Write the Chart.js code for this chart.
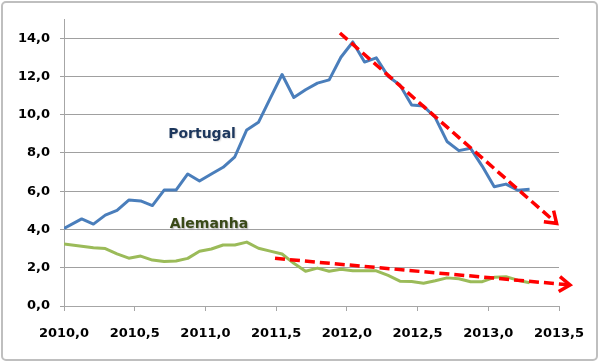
<!DOCTYPE html>
<html>
<head>
<meta charset="utf-8">
<script src="https://cdn.jsdelivr.net/npm/chart.js@4/dist/chart.umd.min.js"></script>
<style>
  body { margin: 0; background: #fff; }
  #wrap { width: 604px; height: 364px; }
</style>
</head>
<body>
<div id="wrap"><canvas id="chart" width="604" height="364"></canvas></div>
<script>
// decimal years, first point at 2010.0 then mid-month
var years = [2010.000, 2010.125, 2010.208, 2010.292, 2010.375, 2010.458, 2010.542, 2010.625, 2010.708, 2010.792,
             2010.875, 2010.958, 2011.042, 2011.125, 2011.208, 2011.292, 2011.375, 2011.458, 2011.542, 2011.625,
             2011.708, 2011.792, 2011.875, 2011.958, 2012.042, 2012.125, 2012.208, 2012.292, 2012.375, 2012.458,
             2012.542, 2012.625, 2012.708, 2012.792, 2012.875, 2012.958, 2013.042, 2013.125, 2013.208, 2013.292];

var portugal = [4.05, 4.55, 4.28, 4.75, 5.00, 5.54, 5.49, 5.25, 6.06, 6.06,
                6.90, 6.53, 6.90, 7.25, 7.80, 9.20, 9.60, 10.85, 12.10, 10.90,
                11.30, 11.65, 11.82, 13.00, 13.80, 12.75, 12.97, 12.00, 11.55, 10.50,
                10.45, 9.85, 8.60, 8.12, 8.24, 7.30, 6.23, 6.37, 6.05, 6.10];

var alemanha = [3.24, 3.12, 3.05, 3.00, 2.72, 2.50, 2.61, 2.40, 2.32, 2.35,
                2.49, 2.86, 2.98, 3.19, 3.19, 3.34, 3.02, 2.87, 2.72, 2.23,
                1.82, 1.98, 1.82, 1.92, 1.84, 1.84, 1.84, 1.60, 1.30, 1.28,
                1.19, 1.32, 1.47, 1.42, 1.27, 1.27, 1.50, 1.53, 1.35, 1.22];

// trend arrows (data units): tail -> tip, head = wing, tip, wing
var trendPt = [{x: 2011.951, y: 14.27}, {x: 2013.483, y: 4.32}];
var headPt = [{x: 2013.393, y: 4.40}, {x: 2013.483, y: 4.32}, {x: 2013.462, y: 4.98}];
var trendDe = [{x: 2011.492, y: 2.49}, {x: 2013.578, y: 1.10}];
var headDe = [{x: 2013.507, y: 1.54}, {x: 2013.578, y: 1.10}, {x: 2013.498, y: 0.76}];

var xTickStep = 0.5;
var yTickStep = 2;

var seriesLabels = [
  {text: 'Portugal', x: 2010.976, y: 8.76, color: '#1c365c', shadow: 'rgba(0,0,0,0.15)'},
  {text: 'Alemanha', x: 2011.025, y: 4.08, color: '#3a4a18', shadow: 'rgba(0,0,0,0.3)'}
];

function pts(xs, ys) {
  var out = [];
  for (var i = 0; i < ys.length; i++) out.push({x: xs[i], y: ys[i]});
  return out;
}

function fmt(v) { return v.toFixed(1).replace('.', ','); }

var frame = {
  id: 'frame',
  beforeDraw: function(chart) {
    var c = chart.ctx;
    c.save();
    c.fillStyle = '#fff';
    c.fillRect(0, 0, chart.width, chart.height);
    c.strokeStyle = '#bfbfbf';
    c.lineWidth = 2;
    c.beginPath();
    c.roundRect(2, 2, 595, 358, 4);
    c.stroke();
    c.restore();
  }
};

var labelsPlugin = {
  id: 'seriesText',
  afterDatasetsDraw: function(chart) {
    var c = chart.ctx, xs = chart.scales.x, ys = chart.scales.y;
    c.save();
    c.font = 'bold 14px "DejaVu Sans"';
    c.textAlign = 'center';
    c.textBaseline = 'alphabetic';
    seriesLabels.forEach(function(l) {
      c.shadowColor = l.shadow;
      c.shadowBlur = 1.5;
      c.shadowOffsetX = 1;
      c.shadowOffsetY = 1;
      c.fillStyle = l.color;
      c.fillText(l.text, xs.getPixelForValue(l.x), ys.getPixelForValue(l.y));
    });
    c.restore();
  }
};

Chart.defaults.font.family = '"DejaVu Sans", Verdana, sans-serif';

new Chart(document.getElementById('chart'), {
  type: 'scatter',
  data: {
    datasets: [
      {data: trendPt, showLine: true, borderColor: '#ff0000', borderWidth: 3.5, borderDash: [10, 5], pointRadius: 0, clip: false},
      {data: headPt, showLine: true, borderColor: '#ff0000', borderWidth: 3.5, pointRadius: 0, clip: false},
      {data: trendDe, showLine: true, borderColor: '#ff0000', borderWidth: 3.5, borderDash: [10, 5], pointRadius: 0, clip: false},
      {data: headDe, showLine: true, borderColor: '#ff0000', borderWidth: 3.5, pointRadius: 0, clip: false},
      {data: pts(years, portugal), showLine: true, borderColor: '#4a7ebb', borderWidth: 3, pointRadius: 0, borderJoinStyle: 'round'},
      {data: pts(years, alemanha), showLine: true, borderColor: '#9bbb59', borderWidth: 3, pointRadius: 0, borderJoinStyle: 'round'}
    ]
  },
  options: {
    responsive: false,
    animation: false,
    layout: {padding: {top: 19, right: 45, left: 0, bottom: 0}},
    plugins: {legend: {display: false}, tooltip: {enabled: false}},
    scales: {
      x: {
        type: 'linear', min: 2010, max: 2013.5,
        afterFit: function(s) { s.height = 58; },
        grid: {drawOnChartArea: false, drawTicks: true, tickLength: 5, color: '#a6a6a6'},
        border: {color: '#a6a6a6', width: 1},
        ticks: {stepSize: xTickStep, padding: 15, color: '#000', font: {size: 13, weight: 'bold'}, maxRotation: 0,
                callback: function(v) { return fmt(v); }}
      },
      y: {
        min: 0, max: 15,
        afterFit: function(s) { s.width = 64; },
        afterBuildTicks: function(s) { s.ticks = s.ticks.filter(function(t) { return t.value % yTickStep === 0; }); },
        grid: {color: '#a0a0a0', tickLength: 4, lineWidth: 1},
        border: {color: '#a6a6a6', width: 1},
        ticks: {stepSize: yTickStep, padding: 10, color: '#000', font: {size: 13, weight: 'bold'},
                callback: function(v) { return fmt(v); }}
      }
    }
  },
  plugins: [frame, labelsPlugin]
});
</script>
</body>
</html>
